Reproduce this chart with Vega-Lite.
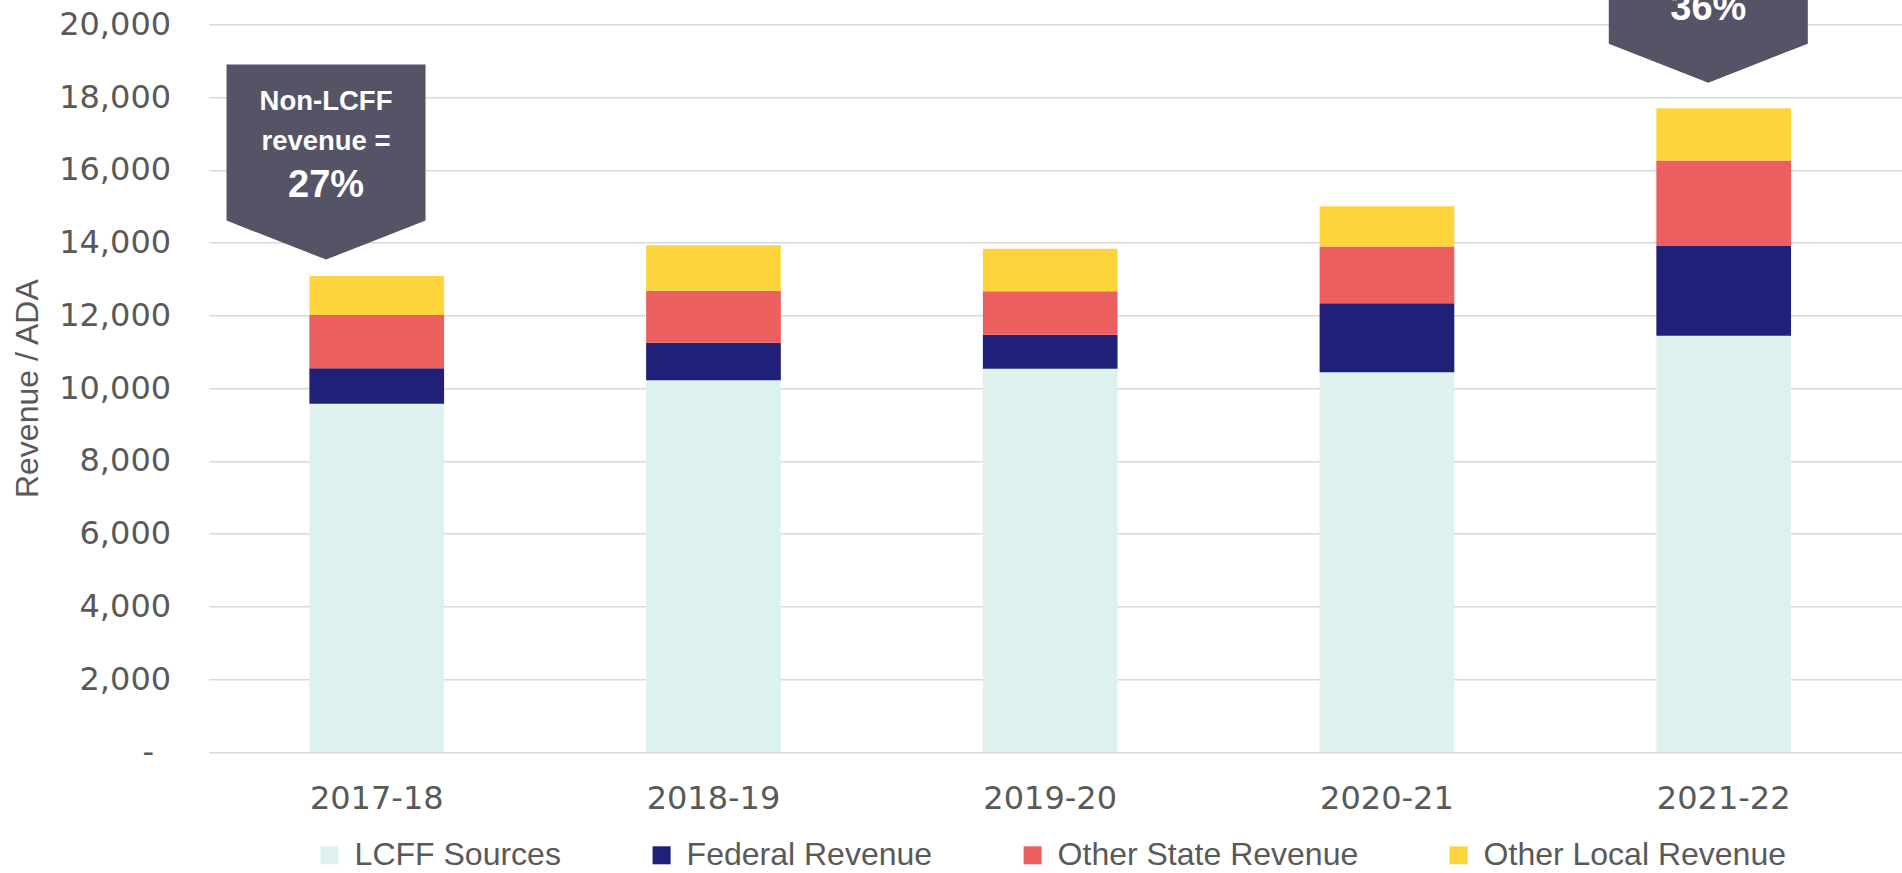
{
  "$schema": "https://vega.github.io/schema/vega-lite/v6.json",
  "autosize": {"type": "none"},
  "width": 1693.4,
  "height": 727.7,
  "padding": {"left": 208.6, "top": 24.3, "right": 0, "bottom": 121},
  "background": "white",
  "config": {"view": {"stroke": null}},
  "datasets": {
    "revenue": [
      {"year": "2017-18", "source": "LCFF Sources", "value": 9570},
      {"year": "2017-18", "source": "Federal Revenue", "value": 980},
      {"year": "2017-18", "source": "Other State Revenue", "value": 1460},
      {"year": "2017-18", "source": "Other Local Revenue", "value": 1070},
      {"year": "2018-19", "source": "LCFF Sources", "value": 10220},
      {"year": "2018-19", "source": "Federal Revenue", "value": 1030},
      {"year": "2018-19", "source": "Other State Revenue", "value": 1430},
      {"year": "2018-19", "source": "Other Local Revenue", "value": 1250},
      {"year": "2019-20", "source": "LCFF Sources", "value": 10530},
      {"year": "2019-20", "source": "Federal Revenue", "value": 940},
      {"year": "2019-20", "source": "Other State Revenue", "value": 1190},
      {"year": "2019-20", "source": "Other Local Revenue", "value": 1170},
      {"year": "2020-21", "source": "LCFF Sources", "value": 10440},
      {"year": "2020-21", "source": "Federal Revenue", "value": 1890},
      {"year": "2020-21", "source": "Other State Revenue", "value": 1560},
      {"year": "2020-21", "source": "Other Local Revenue", "value": 1110},
      {"year": "2021-22", "source": "LCFF Sources", "value": 11440},
      {"year": "2021-22", "source": "Federal Revenue", "value": 2480},
      {"year": "2021-22", "source": "Other State Revenue", "value": 2340},
      {"year": "2021-22", "source": "Other Local Revenue", "value": 1430}
    ],
    "callouts": [
      {"year": "2017-18", "line1": "Non-LCFF", "line2": "revenue =", "pct": "27%"},
      {"year": "2021-22", "line1": "Non-LCFF", "line2": "revenue =", "pct": "36%"}
    ]
  },
  "data": {"name": "revenue"},
  "encoding": {
    "x": {
      "field": "year",
      "type": "nominal",
      "sort": ["2017-18", "2018-19", "2019-20", "2020-21", "2021-22"],
      "scale": {"paddingInner": 0.6, "paddingOuter": 0.3144, "align": 0.476},
      "axis": {
        "title": null,
        "labelAngle": 0,
        "labelFont": "DejaVu Sans",
        "labelFontSize": 32,
        "labelColor": "#595959",
        "labelPadding": 31,
        "domain": false,
        "ticks": false,
        "tickSize": 0,
        "grid": false
      }
    }
  },
  "layer": [
    {
      "transform": [
        {"calculate": "indexof(['LCFF Sources', 'Federal Revenue', 'Other State Revenue', 'Other Local Revenue'], datum.source)", "as": "stackOrder"}
      ],
      "mark": {"type": "bar", "strokeWidth": 0},
      "encoding": {
        "y": {
          "aggregate": "sum",
          "field": "value",
          "type": "quantitative",
          "stack": "zero",
          "scale": {"domain": [0, 20000], "nice": false, "zero": true},
          "axis": {
            "title": "Revenue / ADA",
            "titleFont": "Liberation Sans",
            "titleFontSize": 32,
            "titleFontWeight": "normal",
            "titleColor": "#595959",
            "titlePadding": 14,
            "values": [0, 2000, 4000, 6000, 8000, 10000, 12000, 14000, 16000, 18000, 20000],
            "labelExpr": "datum.value === 0 ? '-' : format(datum.value, ',')",
            "labelFont": "DejaVu Sans",
            "labelFontSize": 32,
            "labelColor": "#595959",
            "labelPadding": {"condition": {"test": "datum.value === 0", "value": 55}, "value": 38},
            "domain": false,
            "ticks": false,
            "tickSize": 0,
            "grid": true,
            "gridColor": "#d9d9d9",
            "gridWidth": 1.5
          }
        },
        "order": {"field": "stackOrder", "type": "quantitative", "sort": "ascending"},
        "color": {
          "field": "source",
          "type": "nominal",
          "sort": ["LCFF Sources", "Federal Revenue", "Other State Revenue", "Other Local Revenue"],
          "scale": {
            "domain": ["LCFF Sources", "Federal Revenue", "Other State Revenue", "Other Local Revenue"],
            "range": ["#ddf1ee", "#212078", "#eb605f", "#fdd43b"]
          },
          "legend": {
            "title": null,
            "orient": "none",
            "direction": "horizontal",
            "legendX": 105,
            "legendY": 815,
            "padding": 0,
            "symbolType": "square",
            "symbolSize": 324,
            "symbolStrokeWidth": 0,
            "labelFont": "Liberation Sans",
            "labelFontSize": 32,
            "labelColor": "#595959",
            "labelOffset": 9,
            "labelLimit": 0,
            "columnPadding": 84
          }
        }
      }
    },
    {
      "transform": [
        {"filter": "datum.year === '2017-18'"},
        {"aggregate": [{"op": "sum", "field": "value", "as": "value"}], "groupby": ["year"]},
        {"lookup": "year", "from": {"data": {"name": "callouts"}, "key": "year", "fields": ["line1", "line2", "pct"]}}
      ],
      "encoding": {
        "y": {"field": "value", "type": "quantitative"}
      },
      "layer": [
        {
          "mark": {"type": "point", "shape": "M-1,-1.96 L1,-1.96 L1,-0.392 L0,0 L-1,-0.392 Z", "size": 39601, "filled": true, "fill": "#555366", "opacity": 1, "strokeWidth": 0, "xOffset": -50.7, "yOffset": -16.5}
        },
        {
          "mark": {"type": "text", "font": "Liberation Sans", "fontWeight": "bold", "fontSize": 27.5, "color": "white", "align": "center", "baseline": "alphabetic", "dx": -50.7, "dy": -166},
          "encoding": {"text": {"field": "line1"}}
        },
        {
          "mark": {"type": "text", "font": "Liberation Sans", "fontWeight": "bold", "fontSize": 27.5, "color": "white", "align": "center", "baseline": "alphabetic", "dx": -50.7, "dy": -126},
          "encoding": {"text": {"field": "line2"}}
        },
        {
          "mark": {"type": "text", "font": "Liberation Sans", "fontWeight": "bold", "fontSize": 38, "color": "white", "align": "center", "baseline": "alphabetic", "dx": -50.7, "dy": -79.3},
          "encoding": {"text": {"field": "pct"}}
        }
      ]
    },
    {
      "transform": [
        {"filter": "datum.year === '2021-22'"},
        {"aggregate": [{"op": "sum", "field": "value", "as": "value"}], "groupby": ["year"]},
        {"lookup": "year", "from": {"data": {"name": "callouts"}, "key": "year", "fields": ["line1", "line2", "pct"]}}
      ],
      "encoding": {
        "y": {"field": "value", "type": "quantitative"}
      },
      "layer": [
        {
          "mark": {"type": "point", "shape": "M-1,-1.96 L1,-1.96 L1,-0.392 L0,0 L-1,-0.392 Z", "size": 39601, "filled": true, "fill": "#555366", "opacity": 1, "strokeWidth": 0, "xOffset": -15.4, "yOffset": -25.7}
        },
        {
          "mark": {"type": "text", "font": "Liberation Sans", "fontWeight": "bold", "fontSize": 27.5, "color": "white", "align": "center", "baseline": "alphabetic", "dx": -15.4, "dy": -175.2},
          "encoding": {"text": {"field": "line1"}}
        },
        {
          "mark": {"type": "text", "font": "Liberation Sans", "fontWeight": "bold", "fontSize": 27.5, "color": "white", "align": "center", "baseline": "alphabetic", "dx": -15.4, "dy": -135.2},
          "encoding": {"text": {"field": "line2"}}
        },
        {
          "mark": {"type": "text", "font": "Liberation Sans", "fontWeight": "bold", "fontSize": 38, "color": "white", "align": "center", "baseline": "alphabetic", "dx": -15.4, "dy": -88.5},
          "encoding": {"text": {"field": "pct"}}
        }
      ]
    }
  ]
}
